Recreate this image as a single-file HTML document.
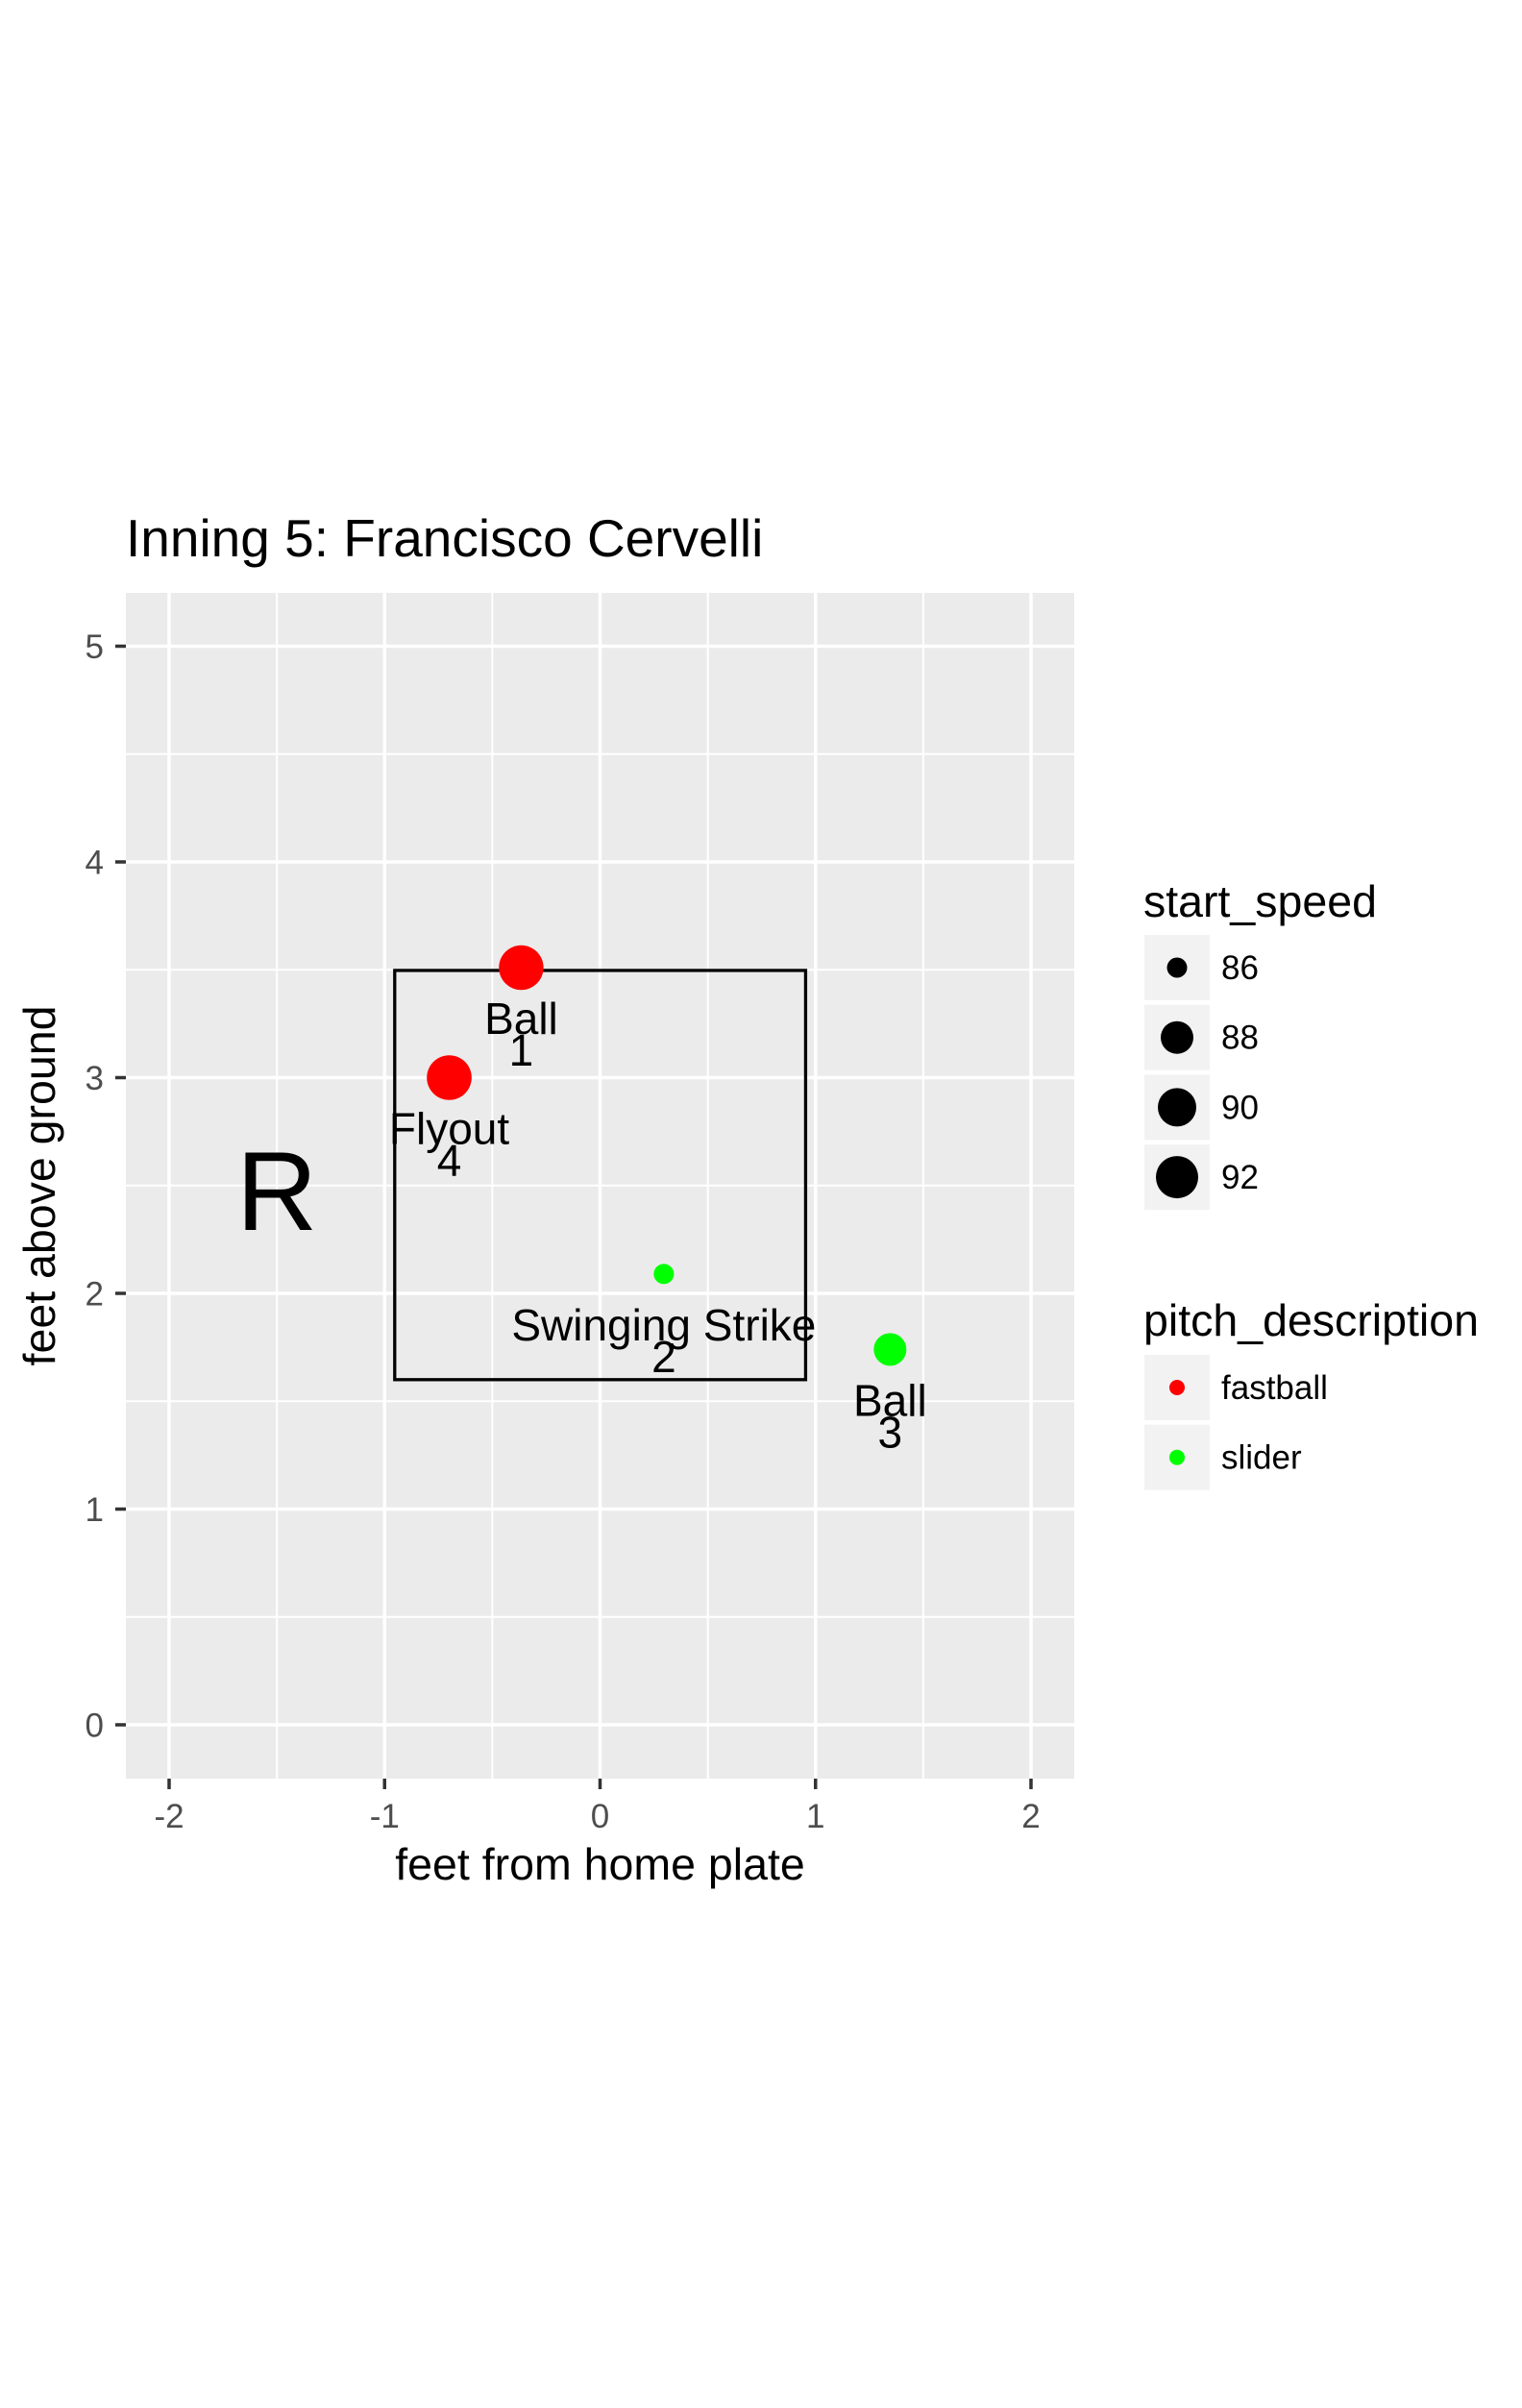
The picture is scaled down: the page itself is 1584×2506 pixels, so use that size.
<!DOCTYPE html>
<html><head><meta charset="utf-8"><style>
html,body{margin:0;padding:0;background:#fff;}
svg{display:block;font-family:"Liberation Sans",Arial,sans-serif;}
</style></head><body>
<svg id="chart" width="1584" height="2506" viewBox="0 0 1584 2506" xmlns="http://www.w3.org/2000/svg">
<rect width="1584" height="2506" fill="#fff"/>
<text x="131" y="579" font-size="55" fill="#000">Inning 5: Francisco Cervelli</text>
<rect x="131" y="617" width="987" height="1234" fill="#ebebeb"/>
<g id="grid"></g>
<g id="axes"></g>
<g id="zone"></g>
<g id="marks"></g>
<g id="labels"></g>
<text x="624.5" y="1956" font-size="46.5" text-anchor="middle" fill="#000">feet from home plate</text>
<text transform="translate(57,1234) rotate(-90)" font-size="46.5" text-anchor="middle" fill="#000">feet above ground</text>
<g id="legend"></g>
</svg>
<script>
const xTicks = [-2, -1, 0, 1, 2];
const yTicks = [0, 1, 2, 3, 4, 5];
const xMinor = [-1.5, -0.5, 0.5, 1.5];
const yMinor = [0.5, 1.5, 2.5, 3.5, 4.5];
const pitchX = [-0.366, 0.296, 1.346, -0.70];
const pitchY = [3.51, 2.09, 1.74, 3.0];
const pitchSpeed = [93.2, 86.0, 88.0, 93.3];
const pitchType = ["fastball", "slider", "slider", "fastball"];
const pitchResult = ["Ball", "Swinging Strike", "Ball", "Flyout"];
const pitchNum = ["1", "2", "3", "4"];
const zoneX = [-0.953, 0.954];
const zoneY = [1.6, 3.497];
const legendSpeeds = [86, 88, 90, 92];
const legendRadii = [10.5, 17, 20, 22];
const legendTypes = ["fastball", "slider"];
const batterSide = "R";
const batterPos = [-1.5, 2.48];

const NS = "http://www.w3.org/2000/svg";
const X0 = 624.5, XS = 224.25, Y0 = 1795, YS = 224.5;
const xs = v => X0 + v * XS;
const ys = v => Y0 - v * YS;
const colorOf = t => t === "fastball" ? "#ff0000" : "#00ff00";
function rOf(s) {
  const L = legendSpeeds, R = legendRadii;
  let i = 0;
  if (s >= L[L.length - 1]) i = L.length - 2;
  else { while (i < L.length - 2 && s > L[i + 1]) i++; }
  const t = (s - L[i]) / (L[i + 1] - L[i]);
  return Math.max(2, R[i] + t * (R[i + 1] - R[i]));
}
function mk(tag, attrs, parent, txt) {
  const e = document.createElementNS(NS, tag);
  for (const k in attrs) e.setAttribute(k, attrs[k]);
  if (txt !== undefined) e.textContent = txt;
  parent.appendChild(e);
  return e;
}
const grid = document.getElementById('grid');
const axes = document.getElementById('axes');
xMinor.forEach(v => {
  const l = mk('line', {x1: xs(v), x2: xs(v), y1: 617, y2: 1851, stroke: '#fff', 'stroke-width': 2}, grid);
  
  
});
yMinor.forEach(v => {
  const l = mk('line', {x1: 131, x2: 1118, y1: ys(v), y2: ys(v), stroke: '#fff', 'stroke-width': 2}, grid);
  
  
});
xTicks.forEach(v => {
  const l = mk('line', {x1: xs(v), x2: xs(v), y1: 617, y2: 1851, stroke: '#fff', 'stroke-width': 3.5}, grid);
  
  
  const t = mk('line', {x1: xs(v), x2: xs(v), y1: 1851, y2: 1862, stroke: '#333', 'stroke-width': 3.5}, axes);
  
  
  const lb = mk('text', {x: xs(v), y: 1902, 'font-size': 35, fill: '#4d4d4d', 'text-anchor': 'middle'}, axes, String(v));
  
  
});
yTicks.forEach(v => {
  const l = mk('line', {x1: 131, x2: 1118, y1: ys(v), y2: ys(v), stroke: '#fff', 'stroke-width': 3.5}, grid);
  
  
  const t = mk('line', {x1: 120, x2: 131, y1: ys(v), y2: ys(v), stroke: '#333', 'stroke-width': 3.5}, axes);
  
  
  const lb = mk('text', {x: 108, y: ys(v) + 12.5, 'font-size': 35, fill: '#4d4d4d', 'text-anchor': 'end'}, axes, String(v));
  
  
});
const zone = document.getElementById('zone');
const zr = mk('rect', {x: xs(zoneX[0]), y: ys(zoneY[1]), width: xs(zoneX[1]) - xs(zoneX[0]), height: ys(zoneY[0]) - ys(zoneY[1]), fill: 'none', stroke: '#000', 'stroke-width': 3.3}, zone);


const rt = mk('text', {x: xs(batterPos[0]), y: ys(batterPos[1]) + 42, 'font-size': 117, 'text-anchor': 'middle', fill: '#000'}, zone, batterSide);


const marks = document.getElementById('marks');
const labels = document.getElementById('labels');
pitchX.forEach((x, i) => {
  const c = mk('circle', {cx: xs(x), cy: ys(pitchY[i]), r: rOf(pitchSpeed[i]), fill: colorOf(pitchType[i])}, marks);
  
  
  const t1 = mk('text', {x: xs(x), y: ys(pitchY[i]) + 69, 'font-size': 46, 'text-anchor': 'middle', fill: '#000'}, labels, pitchResult[i]);
  
  
  const t2 = mk('text', {x: xs(x), y: ys(pitchY[i]) + 102, 'font-size': 46, 'text-anchor': 'middle', fill: '#000'}, labels, pitchNum[i]);
  
  
});
const lg = document.getElementById('legend');
const st = mk('text', {x: 1190, y: 954, 'font-size': 46.5, fill: '#000'}, lg, 'start_speed');


legendSpeeds.forEach((s, i) => {
  const top = 973 + i * 72.7;
  const k = mk('rect', {x: 1191, y: top, width: 68, height: 68, fill: '#f2f2f2'}, lg);
  
  
  const c = mk('circle', {cx: 1225, cy: top + 34, r: legendRadii[i], fill: '#000'}, lg);
  
  
  const t = mk('text', {x: 1271, y: top + 46, 'font-size': 35, fill: '#000'}, lg, String(s));
  
  
});
const pt = mk('text', {x: 1190, y: 1390, 'font-size': 46.5, fill: '#000'}, lg, 'pitch_description');


legendTypes.forEach((ty, i) => {
  const top = 1410 + i * 72.7;
  const k = mk('rect', {x: 1191, y: top, width: 68, height: 68, fill: '#f2f2f2'}, lg);
  
  
  const c = mk('circle', {cx: 1225, cy: top + 34, r: 8, fill: colorOf(ty)}, lg);
  
  
  const t = mk('text', {x: 1271, y: top + 46, 'font-size': 35, fill: '#000'}, lg, ty);
  
  
});
</script>
</body></html>
